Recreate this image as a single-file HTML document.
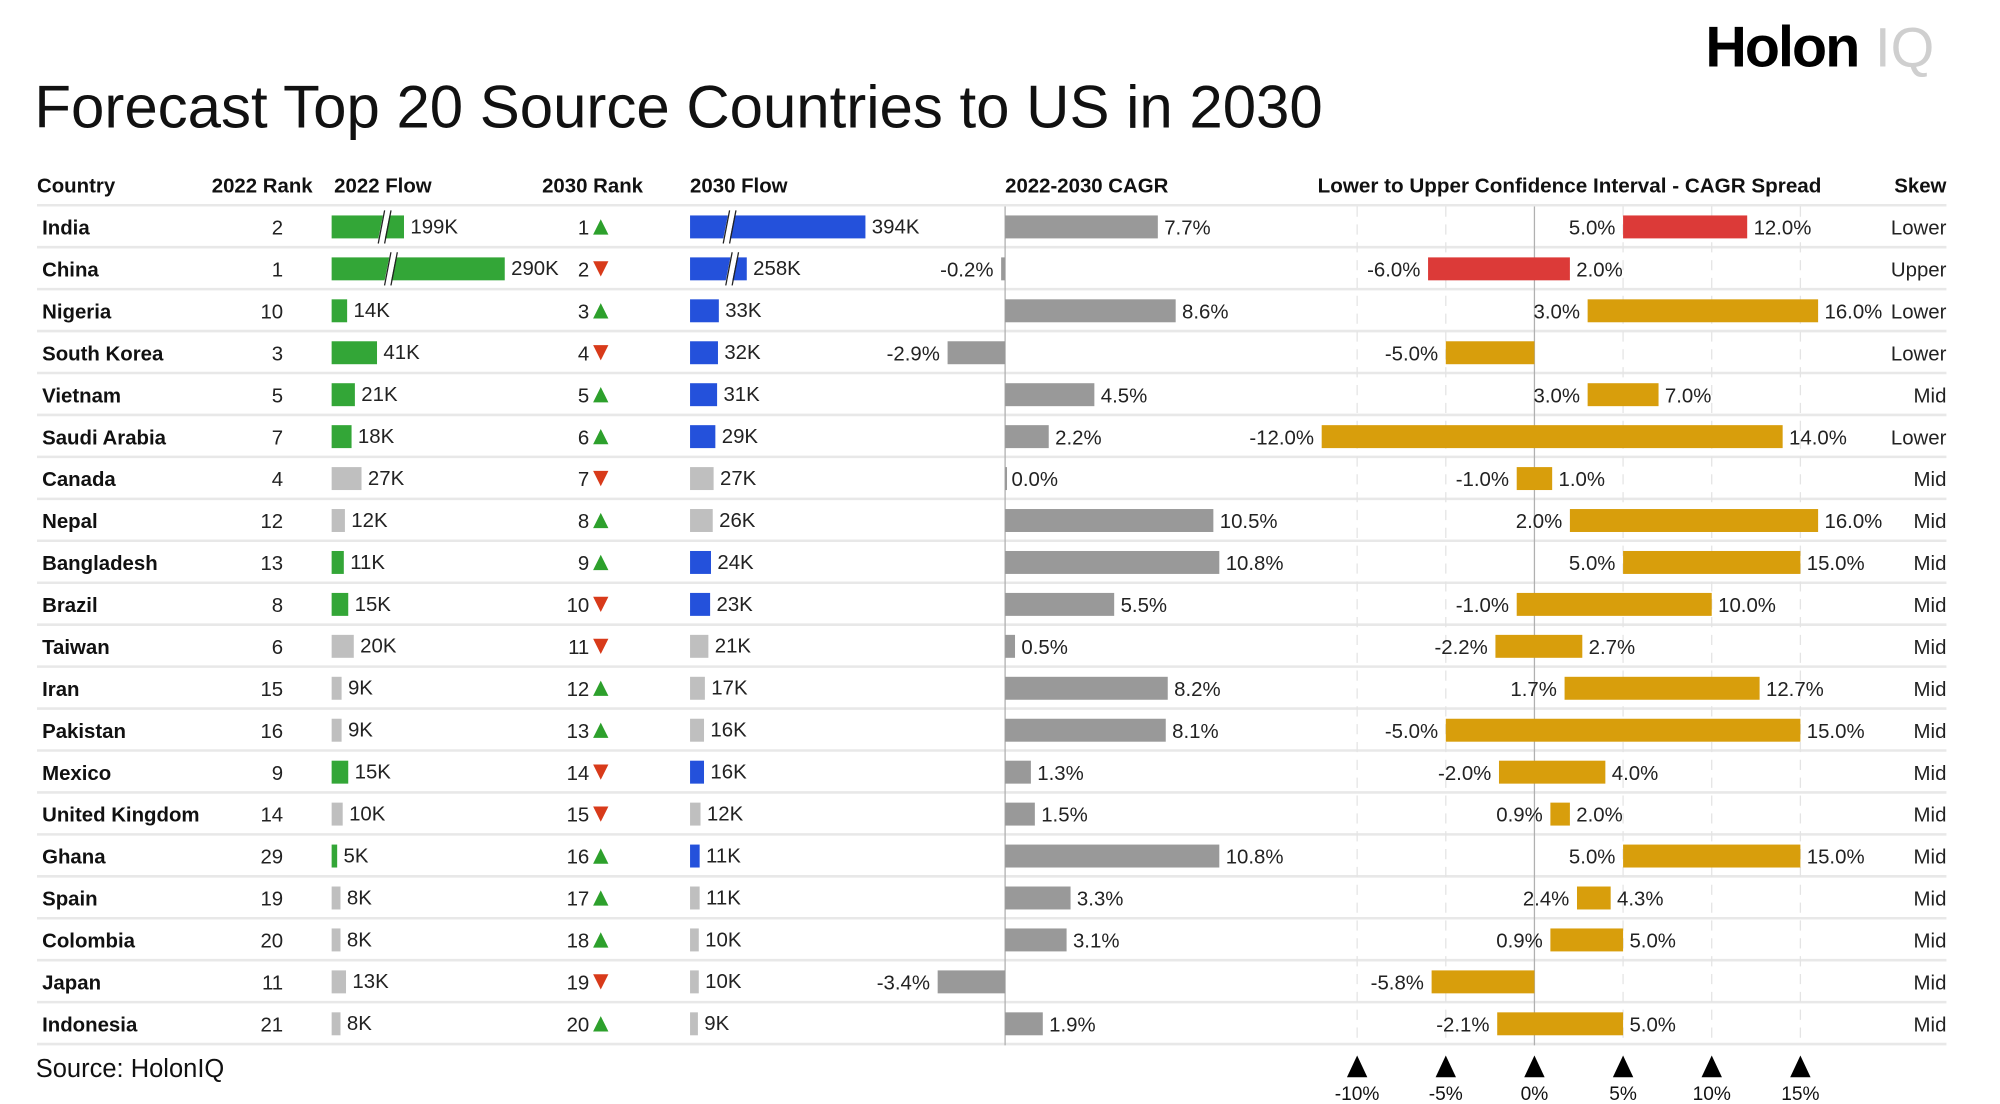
<!DOCTYPE html>
<html><head><meta charset="utf-8"><style>
html,body{margin:0;padding:0;background:#fff;}
svg{display:block;font-family:"Liberation Sans",sans-serif;}
</style></head><body>
<svg id="chart" width="2000" height="1104" viewBox="0 0 1568 866" preserveAspectRatio="none" xmlns="http://www.w3.org/2000/svg">
<text x="1337" y="52" font-size="45" font-weight="bold" fill="#000" letter-spacing="-1.5">Holon</text>
<text x="1470" y="52" font-size="44" fill="#cfcfcf">IQ</text>
<text x="27" y="100" font-size="47" fill="#111">Forecast Top 20 Source Countries to US in 2030</text>
<g font-size="16" font-weight="bold" fill="#111">
<text x="29" y="151">Country</text>
<text x="166" y="151">2022 Rank</text>
<text x="262" y="151">2022 Flow</text>
<text x="425" y="151">2030 Rank</text>
<text x="541" y="151">2030 Flow</text>
<text x="788" y="151">2022-2030 CAGR</text>
<text x="1033" y="151" textLength="395" lengthAdjust="spacingAndGlyphs">Lower to Upper Confidence Interval - CAGR Spread</text>
<text x="1526" y="151" text-anchor="end">Skew</text>
</g>
<text x="28" y="845" font-size="20" fill="#111">Source: HolonIQ</text>
<g id="grid"></g><g id="rows"></g><g id="axis"></g>
</svg>
<script>
const countries=["India","China","Nigeria","South Korea","Vietnam","Saudi Arabia","Canada","Nepal","Bangladesh","Brazil","Taiwan","Iran","Pakistan","Mexico","United Kingdom","Ghana","Spain","Colombia","Japan","Indonesia"];
const rank2022=[2,1,10,3,5,7,4,12,13,8,6,15,16,9,14,29,19,20,11,21];
const flow2022=[199,290,14,41,21,18,27,12,11,15,20,9,9,15,10,5,8,8,13,8];
const rank2030=[1,2,3,4,5,6,7,8,9,10,11,12,13,14,15,16,17,18,19,20];
const flow2030=[394,258,33,32,31,29,27,26,24,23,21,17,16,16,12,11,11,10,10,9];
const highlight=[1,1,1,1,1,1,0,0,1,1,0,0,0,1,0,1,0,0,0,0];
const cagr=[7.7,-0.2,8.6,-2.9,4.5,2.2,0.0,10.5,10.8,5.5,0.5,8.2,8.1,1.3,1.5,10.8,3.3,3.1,-3.4,1.9];
const ciLower=[5,-6,3,-5,3,-12,-1,2,5,-1,-2.2,1.7,-5,-2,0.9,5,2.4,0.9,-5.8,-2.1];
const ciUpper=[12,2,16,0,7,14,1,16,15,10,2.7,12.7,15,4,2.0,15,4.3,5,0,5];
const ciUpperLabel=[1,1,1,0,1,1,1,1,1,1,1,1,1,1,1,1,1,1,0,1];
const ciRed=[1,1,0,0,0,0,0,0,0,0,0,0,0,0,0,0,0,0,0,0];
const skew=["Lower","Upper","Lower","Lower","Mid","Lower","Mid","Mid","Mid","Mid","Mid","Mid","Mid","Mid","Mid","Mid","Mid","Mid","Mid","Mid"];
const ciTicks=[-10,-5,0,5,10,15];

const NS="http://www.w3.org/2000/svg";
const rowY=i=>178+i*32.9;
const w22=v=>v>150?v*0.868-116:v*0.868;
const w30=v=>v>150?v*0.684-132:v*0.684;
const xC=v=>788+v*15.55;
const xCI=v=>1203+v*13.9;
function mk(tag,attrs,parent,text){const e=document.createElementNS(NS,tag);for(const k in attrs)e.setAttribute(k,attrs[k]);if(text!==undefined)e.textContent=text;parent.appendChild(e);return e;}
const grid=document.getElementById('grid'),rows=document.getElementById('rows'),axis=document.getElementById('axis');
for(let i=0;i<=20;i++){const l=mk('line',{x1:29,x2:1526,y1:rowY(i)-17,y2:rowY(i)-17,stroke:'#e8e8e8','stroke-width':2},grid);

}
ciTicks.forEach(t=>{const l=mk('line',{x1:xCI(t),x2:xCI(t),y1:162,y2:820,stroke:t===0?'#b0b0b0':'#e4e4e4','stroke-width':1,'stroke-dasharray':t===0?'':'8,6'},grid);


const tr=mk('polygon',{points:`${xCI(t)-8},845 ${xCI(t)+8},845 ${xCI(t)},828`,fill:'#000'},axis);


const tx=mk('text',{x:xCI(t),y:863,'font-size':15,'text-anchor':'middle',fill:'#111'},axis,t+'%');

});
const ax=mk('line',{x1:788,x2:788,y1:162,y2:820,stroke:'#b0b0b0','stroke-width':1},grid);


function slash(x,y,p){const g=mk('g',{},p);mk('line',{x1:x-4,y1:y+12,x2:x+1,y2:y-13,stroke:'#fff','stroke-width':5},g);mk('line',{x1:x-6,y1:y+13,x2:x-1,y2:y-13,stroke:'#222','stroke-width':1},g);mk('line',{x1:x-1,y1:y+13,x2:x+4,y2:y-13,stroke:'#222','stroke-width':1},g);return g;}
countries.forEach((c,i)=>{
const y=rowY(i);
const g=mk('g',{'font-size':16,fill:'#222'},rows);


const t1=mk('text',{x:33,y:y+6,'font-weight':'bold',fill:'#111'},g,c);


const t2=mk('text',{x:222,y:y+6,'text-anchor':'end'},g,rank2022[i]);


const bw=w22(flow2022[i]);
const b1=mk('rect',{x:260,y:y-9,width:bw,height:18,fill:highlight[i]?'#33a637':'#bfbfbf'},g);


if(flow2022[i]>150){const s=slash(260+bw*(i===0?0.75:0.35),y,g);}
const l1=mk('text',{x:260+bw+5,y:y+5},g,flow2022[i]+'K');


const t3=mk('text',{x:462,y:y+6,'text-anchor':'end'},g,rank2030[i]);


const up=rank2030[i]<=rank2022[i];
const tri=mk('polygon',{points:up?`465,${y+6} 477,${y+6} 471,${y-6}`:`465,${y-6} 477,${y-6} 471,${y+6}`,fill:up?'#2da02c':'#d83a1a'},g);


const bw2=w30(flow2030[i]);
const b2=mk('rect',{x:541,y:y-9,width:bw2,height:18,fill:highlight[i]?'#2451db':'#bfbfbf'},g);


if(flow2030[i]>150){const s=slash(i===0?573:575,y,g);}
const l2=mk('text',{x:541+bw2+5,y:y+5},g,flow2030[i]+'K');


const cx=xC(cagr[i]);
const b3=mk('rect',{x:Math.min(788,cx),y:y-9,width:Math.max(Math.abs(cx-788),1.5),height:18,fill:'#999'},g);


const l3=cagr[i]<0?mk('text',{x:Math.min(cx,786)-6,y:y+6,'text-anchor':'end'},g,cagr[i].toFixed(1)+'%'):mk('text',{x:cx+5,y:y+6},g,cagr[i].toFixed(1)+'%');


const lx=xCI(ciLower[i]),hx=xCI(ciUpper[i]);
const b4=mk('rect',{x:lx,y:y-9,width:hx-lx,height:18,fill:ciRed[i]?'#dc3a38':'#d89e0c'},g);


const l4=mk('text',{x:lx-6,y:y+6,'text-anchor':'end'},g,ciLower[i].toFixed(1)+'%');


if(ciUpperLabel[i]){const l5=mk('text',{x:hx+5,y:y+6},g,ciUpper[i].toFixed(1)+'%');

}
const sk=mk('text',{x:1526,y:y+6,'text-anchor':'end'},g,skew[i]);


});
</script>
</body></html>
